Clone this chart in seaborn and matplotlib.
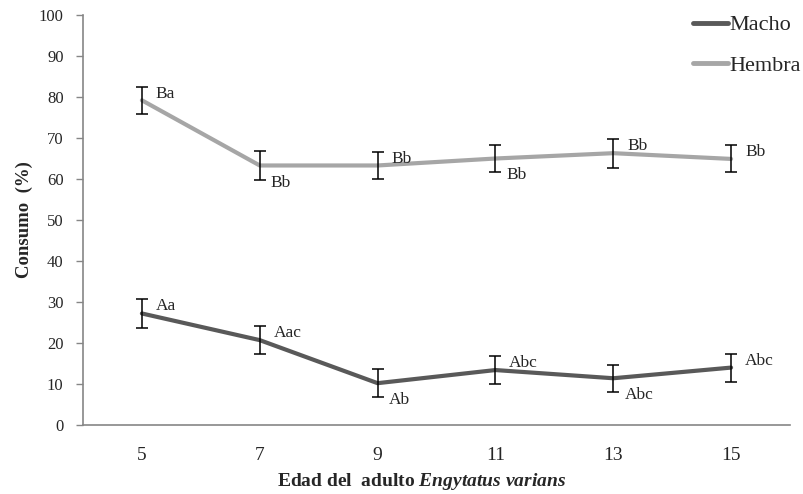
import pandas as pd
import matplotlib.pyplot as plt
import seaborn as sns

# Values
edad = [5, 7, 9, 11, 13, 15]
macho = [27.2, 20.7, 10.2, 13.4, 11.4, 14.0]
macho_err = [3.5, 3.4, 3.4, 3.4, 3.3, 3.4]
macho_letras = ['Aa', 'Aac', 'Ab', 'Abc', 'Abc', 'Abc']
hembra = [79.2, 63.3, 63.3, 65.0, 66.3, 64.9]
hembra_err = [3.3, 3.6, 3.3, 3.4, 3.5, 3.3]
hembra_letras = ['Ba', 'Bb', 'Bb', 'Bb', 'Bb', 'Bb']

# letter position: 1 = above right, -1 = below right
macho_pos = [1, 1, -1, 1, -1, 1]
hembra_pos = [1, -1, 1, -1, 1, 1]

df = pd.DataFrame({
    'edad': edad * 2,
    'consumo': macho + hembra,
    'sexo': ['Macho'] * len(edad) + ['Hembra'] * len(edad),
})

sns.set_style('white')
plt.rcParams['font.family'] = ['Liberation Serif', 'DejaVu Serif']
plt.rcParams['mathtext.fontset'] = 'custom'
plt.rcParams['mathtext.it'] = 'Liberation Serif:italic:bold'
plt.rcParams['mathtext.rm'] = 'Liberation Serif:bold'

colores = {'Macho': '#595959', 'Hembra': '#a6a6a6'}

fig = plt.figure(figsize=(8.04, 4.94), dpi=100)
ax = fig.add_axes([0.1032, 0.1397, 0.8794, 0.8299])

sns.lineplot(data=df, x='edad', y='consumo', hue='sexo', palette=colores,
             linewidth=3, ax=ax, errorbar=None)

for vals, errs in [(macho, macho_err), (hembra, hembra_err)]:
    ax.errorbar(edad, vals, yerr=errs, fmt='none', ecolor='black',
                elinewidth=1.1, capsize=4, capthick=1.1, zorder=5)

for vals, errs, letras, pos in [(macho, macho_err, macho_letras, macho_pos),
                                (hembra, hembra_err, hembra_letras, hembra_pos)]:
    for x, v, e, l, p in zip(edad, vals, errs, letras, pos):
        if p > 0:
            ax.annotate(l, (x, v + e), xytext=(10, -5), textcoords='offset points',
                        ha='left', va='center', fontsize=12.5)
        else:
            ax.annotate(l, (x, v - e), xytext=(8, -2), textcoords='offset points',
                        ha='left', va='center', fontsize=12.5)

ax.set_xlim(4, 16)
ax.set_ylim(0, 100)
ax.set_xticks(edad)
ax.set_yticks(range(0, 101, 10))
ax.tick_params(axis='y', left=True, length=5, width=1, color='#868686',
               labelsize=12, pad=9)
ax.tick_params(axis='x', bottom=False, labelsize=14, pad=12)

for s in ['top', 'right']:
    ax.spines[s].set_visible(False)
for s in ['left', 'bottom']:
    ax.spines[s].set_color('#868686')
    ax.spines[s].set_linewidth(1.2)

ax.set_ylabel('Consumo  (%)', fontsize=13.5, fontweight='bold', labelpad=4)
ax.set_xlabel('')
fig.text(0.525, 0.026, r'Edad del  adulto $\it{Engytatus\ varians}$',
         fontsize=14, fontweight='bold', ha='center', va='center')

leg = ax.legend(loc='upper left', bbox_to_anchor=(684 / 804, 1 - 6 / 494),
                bbox_transform=fig.transFigure, frameon=False, borderaxespad=0,
                fontsize=16, handlelength=1.6, handletextpad=0.05,
                labelspacing=0.9, title=None)
for line in leg.get_lines():
    line.set_linewidth(3.5)

fig.savefig('out.png', dpi=100)
